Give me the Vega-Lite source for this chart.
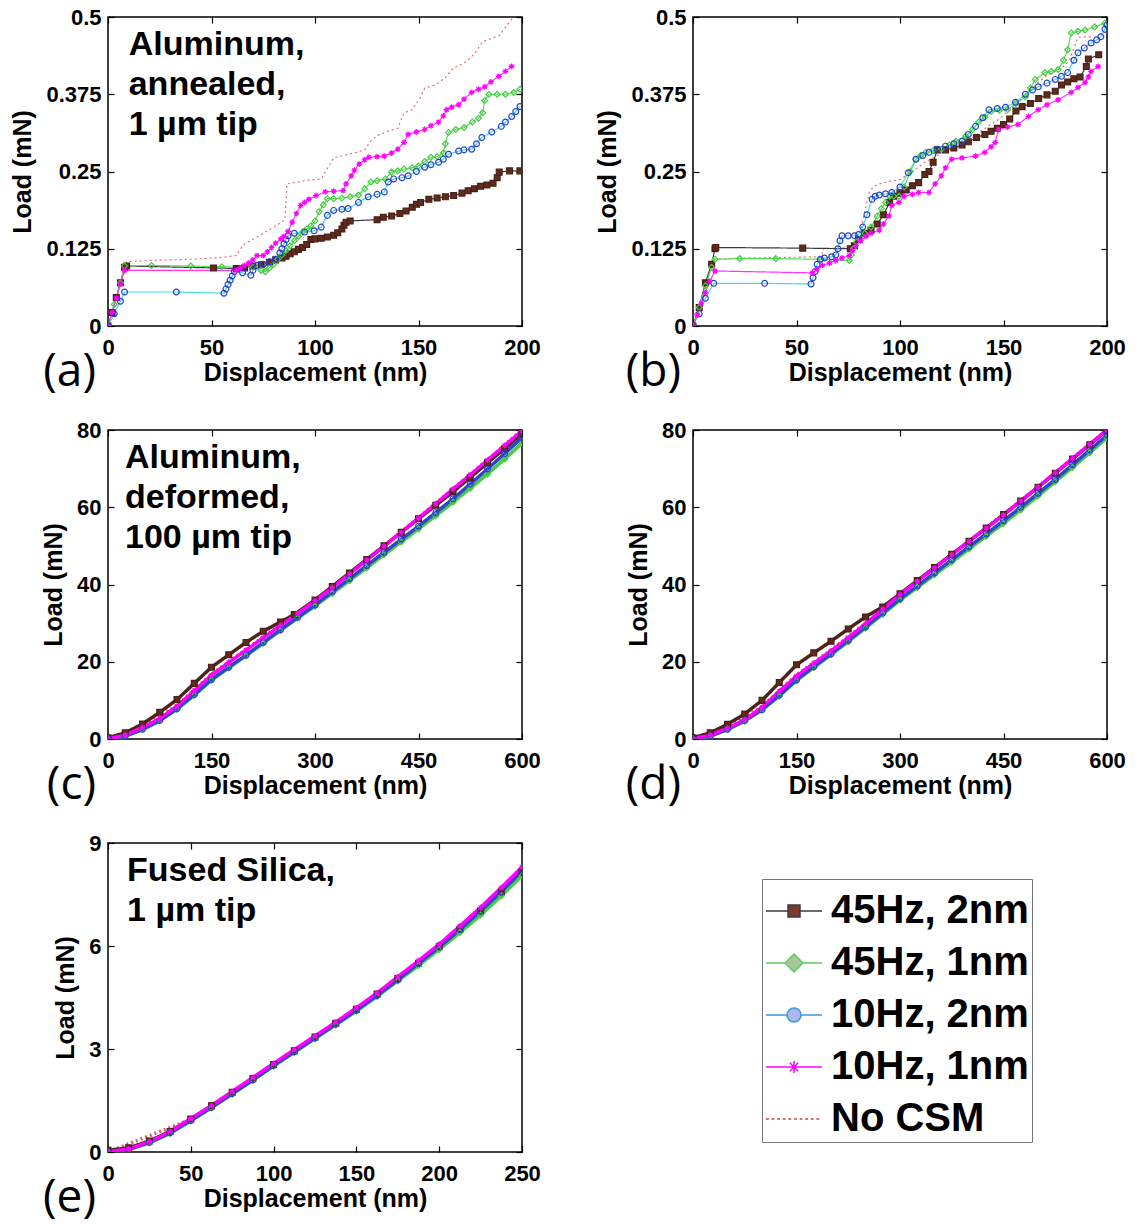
{
"$schema": "https://vega.github.io/schema/vega-lite/v6.json",
"background": "white",
"padding": {"left": 10, "top": 5, "right": 5, "bottom": 5},
"columns": 2,
"spacing": {"row": 104, "column": 171},
"bounds": "flush",
"resolve": {"scale": {"color": "independent", "shape": "independent", "fill": "independent", "stroke": "independent", "strokeDash": "independent"}, "legend": {"color": "independent", "shape": "independent", "fill": "independent", "stroke": "independent", "strokeDash": "independent"}},
"datasets": {
"a": [
{"s":"No CSM","x":0,"y":0},{"s":"No CSM","x":3,"y":0.035},{"s":"No CSM","x":6,"y":0.07},{"s":"No CSM","x":9,"y":0.104},{"s":"No CSM","x":20,"y":0.106},{"s":"No CSM","x":40,"y":0.108},{"s":"No CSM","x":55,"y":0.111},{"s":"No CSM","x":62,"y":0.114},{"s":"No CSM","x":64,"y":0.125},{"s":"No CSM","x":66,"y":0.133},{"s":"No CSM","x":71,"y":0.142},{"s":"No CSM","x":76,"y":0.152},{"s":"No CSM","x":81,"y":0.162},{"s":"No CSM","x":85.5,"y":0.172},{"s":"No CSM","x":86.5,"y":0.23},{"s":"No CSM","x":95,"y":0.235},{"s":"No CSM","x":103,"y":0.238},{"s":"No CSM","x":106,"y":0.255},{"s":"No CSM","x":109,"y":0.272},{"s":"No CSM","x":115,"y":0.277},{"s":"No CSM","x":120,"y":0.281},{"s":"No CSM","x":124,"y":0.285},{"s":"No CSM","x":127,"y":0.3},{"s":"No CSM","x":130,"y":0.308},{"s":"No CSM","x":135,"y":0.315},{"s":"No CSM","x":140,"y":0.32},{"s":"No CSM","x":143,"y":0.345},{"s":"No CSM","x":147,"y":0.35},{"s":"No CSM","x":151,"y":0.37},{"s":"No CSM","x":153,"y":0.385},{"s":"No CSM","x":158,"y":0.39},{"s":"No CSM","x":163,"y":0.402},{"s":"No CSM","x":167,"y":0.418},{"s":"No CSM","x":172,"y":0.425},{"s":"No CSM","x":177,"y":0.44},{"s":"No CSM","x":181,"y":0.46},{"s":"No CSM","x":185,"y":0.465},{"s":"No CSM","x":189,"y":0.47},{"s":"No CSM","x":193,"y":0.488},{"s":"No CSM","x":196,"y":0.5},
{"s":"45Hz, 2nm","x":0,"y":0},{"s":"45Hz, 2nm","x":2,"y":0.022},{"s":"45Hz, 2nm","x":4,"y":0.046},{"s":"45Hz, 2nm","x":6,"y":0.07},{"s":"45Hz, 2nm","x":8,"y":0.095},{"s":"45Hz, 2nm","x":9,"y":0.097},{"s":"45Hz, 2nm","x":51,"y":0.094},{"s":"45Hz, 2nm","x":62,"y":0.093},{"s":"45Hz, 2nm","x":66,"y":0.094},{"s":"45Hz, 2nm","x":70,"y":0.097},{"s":"45Hz, 2nm","x":74,"y":0.099},{"s":"45Hz, 2nm","x":78,"y":0.103},{"s":"45Hz, 2nm","x":81,"y":0.107},{"s":"45Hz, 2nm","x":84,"y":0.11},{"s":"45Hz, 2nm","x":86,"y":0.113},{"s":"45Hz, 2nm","x":88,"y":0.117},{"s":"45Hz, 2nm","x":90,"y":0.12},{"s":"45Hz, 2nm","x":92,"y":0.124},{"s":"45Hz, 2nm","x":94,"y":0.127},{"s":"45Hz, 2nm","x":96,"y":0.132},{"s":"45Hz, 2nm","x":98,"y":0.14},{"s":"45Hz, 2nm","x":100,"y":0.141},{"s":"45Hz, 2nm","x":103,"y":0.142},{"s":"45Hz, 2nm","x":106,"y":0.144},{"s":"45Hz, 2nm","x":109,"y":0.147},{"s":"45Hz, 2nm","x":111,"y":0.151},{"s":"45Hz, 2nm","x":113,"y":0.157},{"s":"45Hz, 2nm","x":114,"y":0.163},{"s":"45Hz, 2nm","x":115,"y":0.168},{"s":"45Hz, 2nm","x":117,"y":0.17},{"s":"45Hz, 2nm","x":130,"y":0.172},{"s":"45Hz, 2nm","x":133,"y":0.176},{"s":"45Hz, 2nm","x":137,"y":0.178},{"s":"45Hz, 2nm","x":141,"y":0.182},{"s":"45Hz, 2nm","x":144,"y":0.186},{"s":"45Hz, 2nm","x":147,"y":0.192},{"s":"45Hz, 2nm","x":149,"y":0.197},{"s":"45Hz, 2nm","x":151,"y":0.2},{"s":"45Hz, 2nm","x":155,"y":0.205},{"s":"45Hz, 2nm","x":159,"y":0.207},{"s":"45Hz, 2nm","x":163,"y":0.209},{"s":"45Hz, 2nm","x":167,"y":0.211},{"s":"45Hz, 2nm","x":171,"y":0.215},{"s":"45Hz, 2nm","x":174,"y":0.219},{"s":"45Hz, 2nm","x":177,"y":0.222},{"s":"45Hz, 2nm","x":180,"y":0.226},{"s":"45Hz, 2nm","x":183,"y":0.228},{"s":"45Hz, 2nm","x":186,"y":0.231},{"s":"45Hz, 2nm","x":188,"y":0.24},{"s":"45Hz, 2nm","x":189,"y":0.249},{"s":"45Hz, 2nm","x":194,"y":0.251},{"s":"45Hz, 2nm","x":199,"y":0.251},
{"s":"45Hz, 1nm","x":0,"y":0},{"s":"45Hz, 1nm","x":3,"y":0.035},{"s":"45Hz, 1nm","x":6,"y":0.07},{"s":"45Hz, 1nm","x":8,"y":0.097},{"s":"45Hz, 1nm","x":21,"y":0.098},{"s":"45Hz, 1nm","x":40,"y":0.097},{"s":"45Hz, 1nm","x":55,"y":0.096},{"s":"45Hz, 1nm","x":70,"y":0.095},{"s":"45Hz, 1nm","x":74,"y":0.09},{"s":"45Hz, 1nm","x":76,"y":0.088},{"s":"45Hz, 1nm","x":78,"y":0.094},{"s":"45Hz, 1nm","x":80,"y":0.1},{"s":"45Hz, 1nm","x":82,"y":0.108},{"s":"45Hz, 1nm","x":84,"y":0.115},{"s":"45Hz, 1nm","x":86,"y":0.122},{"s":"45Hz, 1nm","x":88,"y":0.13},{"s":"45Hz, 1nm","x":90,"y":0.138},{"s":"45Hz, 1nm","x":92,"y":0.145},{"s":"45Hz, 1nm","x":94,"y":0.152},{"s":"45Hz, 1nm","x":96,"y":0.157},{"s":"45Hz, 1nm","x":98,"y":0.162},{"s":"45Hz, 1nm","x":100,"y":0.17},{"s":"45Hz, 1nm","x":102,"y":0.185},{"s":"45Hz, 1nm","x":104,"y":0.196},{"s":"45Hz, 1nm","x":106,"y":0.206},{"s":"45Hz, 1nm","x":109,"y":0.206},{"s":"45Hz, 1nm","x":113,"y":0.207},{"s":"45Hz, 1nm","x":117,"y":0.209},{"s":"45Hz, 1nm","x":121,"y":0.212},{"s":"45Hz, 1nm","x":124,"y":0.222},{"s":"45Hz, 1nm","x":127,"y":0.233},{"s":"45Hz, 1nm","x":130,"y":0.235},{"s":"45Hz, 1nm","x":134,"y":0.238},{"s":"45Hz, 1nm","x":137,"y":0.249},{"s":"45Hz, 1nm","x":140,"y":0.251},{"s":"45Hz, 1nm","x":143,"y":0.254},{"s":"45Hz, 1nm","x":147,"y":0.256},{"s":"45Hz, 1nm","x":150,"y":0.259},{"s":"45Hz, 1nm","x":153,"y":0.266},{"s":"45Hz, 1nm","x":156,"y":0.273},{"s":"45Hz, 1nm","x":159,"y":0.274},{"s":"45Hz, 1nm","x":162,"y":0.28},{"s":"45Hz, 1nm","x":163,"y":0.295},{"s":"45Hz, 1nm","x":164.5,"y":0.313},{"s":"45Hz, 1nm","x":168,"y":0.318},{"s":"45Hz, 1nm","x":172,"y":0.321},{"s":"45Hz, 1nm","x":176,"y":0.33},{"s":"45Hz, 1nm","x":179,"y":0.336},{"s":"45Hz, 1nm","x":181,"y":0.345},{"s":"45Hz, 1nm","x":182,"y":0.365},{"s":"45Hz, 1nm","x":184,"y":0.375},{"s":"45Hz, 1nm","x":188,"y":0.375},{"s":"45Hz, 1nm","x":192,"y":0.375},{"s":"45Hz, 1nm","x":196,"y":0.378},{"s":"45Hz, 1nm","x":199,"y":0.383},
{"s":"10Hz, 2nm","x":0,"y":0},{"s":"10Hz, 2nm","x":3,"y":0.02},{"s":"10Hz, 2nm","x":6,"y":0.04},{"s":"10Hz, 2nm","x":8,"y":0.055},{"s":"10Hz, 2nm","x":33,"y":0.055},{"s":"10Hz, 2nm","x":56,"y":0.053},{"s":"10Hz, 2nm","x":57,"y":0.06},{"s":"10Hz, 2nm","x":58,"y":0.067},{"s":"10Hz, 2nm","x":59,"y":0.074},{"s":"10Hz, 2nm","x":60,"y":0.081},{"s":"10Hz, 2nm","x":61,"y":0.088},{"s":"10Hz, 2nm","x":65,"y":0.086},{"s":"10Hz, 2nm","x":69,"y":0.082},{"s":"10Hz, 2nm","x":70,"y":0.09},{"s":"10Hz, 2nm","x":72,"y":0.098},{"s":"10Hz, 2nm","x":75,"y":0.1},{"s":"10Hz, 2nm","x":78,"y":0.104},{"s":"10Hz, 2nm","x":81,"y":0.108},{"s":"10Hz, 2nm","x":83,"y":0.118},{"s":"10Hz, 2nm","x":84,"y":0.125},{"s":"10Hz, 2nm","x":85,"y":0.133},{"s":"10Hz, 2nm","x":86,"y":0.14},{"s":"10Hz, 2nm","x":87,"y":0.146},{"s":"10Hz, 2nm","x":90,"y":0.15},{"s":"10Hz, 2nm","x":95,"y":0.152},{"s":"10Hz, 2nm","x":99.6,"y":0.154},{"s":"10Hz, 2nm","x":103,"y":0.16},{"s":"10Hz, 2nm","x":106,"y":0.179},{"s":"10Hz, 2nm","x":109,"y":0.187},{"s":"10Hz, 2nm","x":113,"y":0.189},{"s":"10Hz, 2nm","x":116,"y":0.19},{"s":"10Hz, 2nm","x":121,"y":0.2},{"s":"10Hz, 2nm","x":125.7,"y":0.209},{"s":"10Hz, 2nm","x":130,"y":0.213},{"s":"10Hz, 2nm","x":133.5,"y":0.217},{"s":"10Hz, 2nm","x":135.4,"y":0.233},{"s":"10Hz, 2nm","x":138,"y":0.238},{"s":"10Hz, 2nm","x":142,"y":0.24},{"s":"10Hz, 2nm","x":145,"y":0.243},{"s":"10Hz, 2nm","x":149,"y":0.25},{"s":"10Hz, 2nm","x":153,"y":0.257},{"s":"10Hz, 2nm","x":156,"y":0.261},{"s":"10Hz, 2nm","x":159.7,"y":0.265},{"s":"10Hz, 2nm","x":162,"y":0.27},{"s":"10Hz, 2nm","x":164.5,"y":0.278},{"s":"10Hz, 2nm","x":169.4,"y":0.283},{"s":"10Hz, 2nm","x":172,"y":0.285},{"s":"10Hz, 2nm","x":175.7,"y":0.286},{"s":"10Hz, 2nm","x":178,"y":0.295},{"s":"10Hz, 2nm","x":180.6,"y":0.305},{"s":"10Hz, 2nm","x":185.4,"y":0.314},{"s":"10Hz, 2nm","x":190,"y":0.323},{"s":"10Hz, 2nm","x":192,"y":0.33},{"s":"10Hz, 2nm","x":195,"y":0.339},{"s":"10Hz, 2nm","x":197,"y":0.347},{"s":"10Hz, 2nm","x":199,"y":0.355},
{"s":"10Hz, 1nm","x":0,"y":0},{"s":"10Hz, 1nm","x":2,"y":0.022},{"s":"10Hz, 1nm","x":4,"y":0.045},{"s":"10Hz, 1nm","x":6,"y":0.068},{"s":"10Hz, 1nm","x":8,"y":0.09},{"s":"10Hz, 1nm","x":62,"y":0.09},{"s":"10Hz, 1nm","x":64,"y":0.094},{"s":"10Hz, 1nm","x":66,"y":0.098},{"s":"10Hz, 1nm","x":68,"y":0.102},{"s":"10Hz, 1nm","x":70,"y":0.107},{"s":"10Hz, 1nm","x":72,"y":0.114},{"s":"10Hz, 1nm","x":75,"y":0.114},{"s":"10Hz, 1nm","x":77,"y":0.12},{"s":"10Hz, 1nm","x":79,"y":0.127},{"s":"10Hz, 1nm","x":81,"y":0.134},{"s":"10Hz, 1nm","x":83.5,"y":0.141},{"s":"10Hz, 1nm","x":85,"y":0.145},{"s":"10Hz, 1nm","x":87,"y":0.153},{"s":"10Hz, 1nm","x":89,"y":0.168},{"s":"10Hz, 1nm","x":91,"y":0.182},{"s":"10Hz, 1nm","x":93,"y":0.195},{"s":"10Hz, 1nm","x":95,"y":0.2},{"s":"10Hz, 1nm","x":97,"y":0.205},{"s":"10Hz, 1nm","x":100.5,"y":0.211},{"s":"10Hz, 1nm","x":105,"y":0.217},{"s":"10Hz, 1nm","x":109,"y":0.218},{"s":"10Hz, 1nm","x":113.6,"y":0.219},{"s":"10Hz, 1nm","x":115,"y":0.23},{"s":"10Hz, 1nm","x":117.5,"y":0.243},{"s":"10Hz, 1nm","x":119,"y":0.252},{"s":"10Hz, 1nm","x":121.4,"y":0.262},{"s":"10Hz, 1nm","x":124,"y":0.269},{"s":"10Hz, 1nm","x":126,"y":0.273},{"s":"10Hz, 1nm","x":130,"y":0.274},{"s":"10Hz, 1nm","x":133.5,"y":0.275},{"s":"10Hz, 1nm","x":137,"y":0.28},{"s":"10Hz, 1nm","x":140,"y":0.286},{"s":"10Hz, 1nm","x":143,"y":0.297},{"s":"10Hz, 1nm","x":145,"y":0.31},{"s":"10Hz, 1nm","x":149,"y":0.314},{"s":"10Hz, 1nm","x":153,"y":0.318},{"s":"10Hz, 1nm","x":156,"y":0.324},{"s":"10Hz, 1nm","x":159.7,"y":0.33},{"s":"10Hz, 1nm","x":162,"y":0.34},{"s":"10Hz, 1nm","x":163.6,"y":0.35},{"s":"10Hz, 1nm","x":166,"y":0.354},{"s":"10Hz, 1nm","x":169.4,"y":0.358},{"s":"10Hz, 1nm","x":172,"y":0.367},{"s":"10Hz, 1nm","x":175.7,"y":0.378},{"s":"10Hz, 1nm","x":179,"y":0.383},{"s":"10Hz, 1nm","x":182,"y":0.387},{"s":"10Hz, 1nm","x":185,"y":0.395},{"s":"10Hz, 1nm","x":188.8,"y":0.404},{"s":"10Hz, 1nm","x":192,"y":0.412},{"s":"10Hz, 1nm","x":195,"y":0.42}
],
"b": [
{"s":"No CSM","x":0,"y":0},{"s":"No CSM","x":3,"y":0.033},{"s":"No CSM","x":6,"y":0.066},{"s":"No CSM","x":10,"y":0.108},{"s":"No CSM","x":25,"y":0.11},{"s":"No CSM","x":45,"y":0.111},{"s":"No CSM","x":62,"y":0.112},{"s":"No CSM","x":63,"y":0.125},{"s":"No CSM","x":70,"y":0.126},{"s":"No CSM","x":75,"y":0.127},{"s":"No CSM","x":78,"y":0.135},{"s":"No CSM","x":81,"y":0.155},{"s":"No CSM","x":83,"y":0.185},{"s":"No CSM","x":85,"y":0.215},{"s":"No CSM","x":87,"y":0.225},{"s":"No CSM","x":90,"y":0.23},{"s":"No CSM","x":95,"y":0.234},{"s":"No CSM","x":100,"y":0.237},{"s":"No CSM","x":106,"y":0.25},{"s":"No CSM","x":112,"y":0.265},{"s":"No CSM","x":116,"y":0.272},{"s":"No CSM","x":120,"y":0.28},{"s":"No CSM","x":127,"y":0.29},{"s":"No CSM","x":134,"y":0.302},{"s":"No CSM","x":138,"y":0.312},{"s":"No CSM","x":142,"y":0.322},{"s":"No CSM","x":148,"y":0.335},{"s":"No CSM","x":153,"y":0.35},{"s":"No CSM","x":157,"y":0.362},{"s":"No CSM","x":162,"y":0.378},{"s":"No CSM","x":167,"y":0.395},{"s":"No CSM","x":171,"y":0.405},{"s":"No CSM","x":175,"y":0.412},{"s":"No CSM","x":179,"y":0.42},{"s":"No CSM","x":182,"y":0.43},{"s":"No CSM","x":184,"y":0.45},{"s":"No CSM","x":186,"y":0.467},{"s":"No CSM","x":190,"y":0.468},{"s":"No CSM","x":193,"y":0.468},
{"s":"45Hz, 2nm","x":0,"y":0},{"s":"45Hz, 2nm","x":3,"y":0.03},{"s":"45Hz, 2nm","x":6,"y":0.07},{"s":"45Hz, 2nm","x":9,"y":0.1},{"s":"45Hz, 2nm","x":10.6,"y":0.125},{"s":"45Hz, 2nm","x":11,"y":0.127},{"s":"45Hz, 2nm","x":53,"y":0.126},{"s":"45Hz, 2nm","x":76,"y":0.125},{"s":"45Hz, 2nm","x":78,"y":0.13},{"s":"45Hz, 2nm","x":80,"y":0.14},{"s":"45Hz, 2nm","x":83,"y":0.15},{"s":"45Hz, 2nm","x":86,"y":0.155},{"s":"45Hz, 2nm","x":89,"y":0.165},{"s":"45Hz, 2nm","x":92,"y":0.18},{"s":"45Hz, 2nm","x":95,"y":0.2},{"s":"45Hz, 2nm","x":97,"y":0.21},{"s":"45Hz, 2nm","x":100,"y":0.215},{"s":"45Hz, 2nm","x":103,"y":0.22},{"s":"45Hz, 2nm","x":106,"y":0.227},{"s":"45Hz, 2nm","x":109,"y":0.232},{"s":"45Hz, 2nm","x":112,"y":0.245},{"s":"45Hz, 2nm","x":114,"y":0.25},{"s":"45Hz, 2nm","x":116,"y":0.265},{"s":"45Hz, 2nm","x":118,"y":0.285},{"s":"45Hz, 2nm","x":122,"y":0.285},{"s":"45Hz, 2nm","x":126,"y":0.288},{"s":"45Hz, 2nm","x":130,"y":0.293},{"s":"45Hz, 2nm","x":133,"y":0.298},{"s":"45Hz, 2nm","x":137,"y":0.305},{"s":"45Hz, 2nm","x":141,"y":0.31},{"s":"45Hz, 2nm","x":144,"y":0.315},{"s":"45Hz, 2nm","x":147,"y":0.32},{"s":"45Hz, 2nm","x":150,"y":0.326},{"s":"45Hz, 2nm","x":153,"y":0.335},{"s":"45Hz, 2nm","x":156,"y":0.348},{"s":"45Hz, 2nm","x":159,"y":0.355},{"s":"45Hz, 2nm","x":163,"y":0.36},{"s":"45Hz, 2nm","x":167,"y":0.368},{"s":"45Hz, 2nm","x":171,"y":0.374},{"s":"45Hz, 2nm","x":175,"y":0.38},{"s":"45Hz, 2nm","x":178,"y":0.39},{"s":"45Hz, 2nm","x":181,"y":0.395},{"s":"45Hz, 2nm","x":184,"y":0.4},{"s":"45Hz, 2nm","x":187,"y":0.403},{"s":"45Hz, 2nm","x":190,"y":0.42},{"s":"45Hz, 2nm","x":191,"y":0.432},{"s":"45Hz, 2nm","x":196,"y":0.439},
{"s":"45Hz, 1nm","x":0,"y":0},{"s":"45Hz, 1nm","x":3,"y":0.03},{"s":"45Hz, 1nm","x":6,"y":0.065},{"s":"45Hz, 1nm","x":9,"y":0.095},{"s":"45Hz, 1nm","x":10.6,"y":0.108},{"s":"45Hz, 1nm","x":22.6,"y":0.109},{"s":"45Hz, 1nm","x":40,"y":0.109},{"s":"45Hz, 1nm","x":62,"y":0.108},{"s":"45Hz, 1nm","x":75.5,"y":0.106},{"s":"45Hz, 1nm","x":76.5,"y":0.115},{"s":"45Hz, 1nm","x":77.5,"y":0.125},{"s":"45Hz, 1nm","x":79,"y":0.136},{"s":"45Hz, 1nm","x":81,"y":0.142},{"s":"45Hz, 1nm","x":83,"y":0.15},{"s":"45Hz, 1nm","x":86,"y":0.16},{"s":"45Hz, 1nm","x":89,"y":0.178},{"s":"45Hz, 1nm","x":91,"y":0.19},{"s":"45Hz, 1nm","x":93,"y":0.2},{"s":"45Hz, 1nm","x":95,"y":0.21},{"s":"45Hz, 1nm","x":97,"y":0.21},{"s":"45Hz, 1nm","x":99.5,"y":0.21},{"s":"45Hz, 1nm","x":102,"y":0.225},{"s":"45Hz, 1nm","x":105,"y":0.25},{"s":"45Hz, 1nm","x":107.7,"y":0.27},{"s":"45Hz, 1nm","x":110,"y":0.276},{"s":"45Hz, 1nm","x":112.5,"y":0.281},{"s":"45Hz, 1nm","x":116,"y":0.284},{"s":"45Hz, 1nm","x":120,"y":0.286},{"s":"45Hz, 1nm","x":124,"y":0.293},{"s":"45Hz, 1nm","x":127,"y":0.299},{"s":"45Hz, 1nm","x":131.7,"y":0.307},{"s":"45Hz, 1nm","x":135,"y":0.318},{"s":"45Hz, 1nm","x":138,"y":0.33},{"s":"45Hz, 1nm","x":141,"y":0.338},{"s":"45Hz, 1nm","x":144,"y":0.347},{"s":"45Hz, 1nm","x":148,"y":0.349},{"s":"45Hz, 1nm","x":152,"y":0.35},{"s":"45Hz, 1nm","x":156,"y":0.36},{"s":"45Hz, 1nm","x":160.6,"y":0.371},{"s":"45Hz, 1nm","x":163,"y":0.385},{"s":"45Hz, 1nm","x":165.4,"y":0.399},{"s":"45Hz, 1nm","x":170,"y":0.41},{"s":"45Hz, 1nm","x":173,"y":0.412},{"s":"45Hz, 1nm","x":176.4,"y":0.415},{"s":"45Hz, 1nm","x":179,"y":0.43},{"s":"45Hz, 1nm","x":181,"y":0.447},{"s":"45Hz, 1nm","x":182.7,"y":0.474},{"s":"45Hz, 1nm","x":186,"y":0.477},{"s":"45Hz, 1nm","x":189.4,"y":0.479},{"s":"45Hz, 1nm","x":194,"y":0.484},{"s":"45Hz, 1nm","x":199,"y":0.49},
{"s":"10Hz, 2nm","x":0,"y":0},{"s":"10Hz, 2nm","x":3,"y":0.02},{"s":"10Hz, 2nm","x":6,"y":0.045},{"s":"10Hz, 2nm","x":10,"y":0.069},{"s":"10Hz, 2nm","x":34.6,"y":0.069},{"s":"10Hz, 2nm","x":57,"y":0.068},{"s":"10Hz, 2nm","x":58,"y":0.078},{"s":"10Hz, 2nm","x":59,"y":0.088},{"s":"10Hz, 2nm","x":60,"y":0.1},{"s":"10Hz, 2nm","x":61.5,"y":0.108},{"s":"10Hz, 2nm","x":63.5,"y":0.11},{"s":"10Hz, 2nm","x":67,"y":0.112},{"s":"10Hz, 2nm","x":69,"y":0.115},{"s":"10Hz, 2nm","x":70,"y":0.125},{"s":"10Hz, 2nm","x":71,"y":0.138},{"s":"10Hz, 2nm","x":72,"y":0.146},{"s":"10Hz, 2nm","x":75,"y":0.146},{"s":"10Hz, 2nm","x":78,"y":0.146},{"s":"10Hz, 2nm","x":80,"y":0.148},{"s":"10Hz, 2nm","x":82,"y":0.16},{"s":"10Hz, 2nm","x":84,"y":0.18},{"s":"10Hz, 2nm","x":86.5,"y":0.205},{"s":"10Hz, 2nm","x":88,"y":0.21},{"s":"10Hz, 2nm","x":90,"y":0.212},{"s":"10Hz, 2nm","x":93,"y":0.214},{"s":"10Hz, 2nm","x":96,"y":0.216},{"s":"10Hz, 2nm","x":100,"y":0.225},{"s":"10Hz, 2nm","x":104,"y":0.248},{"s":"10Hz, 2nm","x":107.7,"y":0.27},{"s":"10Hz, 2nm","x":111,"y":0.276},{"s":"10Hz, 2nm","x":114,"y":0.281},{"s":"10Hz, 2nm","x":118,"y":0.286},{"s":"10Hz, 2nm","x":122,"y":0.291},{"s":"10Hz, 2nm","x":126,"y":0.295},{"s":"10Hz, 2nm","x":130,"y":0.299},{"s":"10Hz, 2nm","x":133,"y":0.31},{"s":"10Hz, 2nm","x":136.5,"y":0.323},{"s":"10Hz, 2nm","x":140,"y":0.337},{"s":"10Hz, 2nm","x":143,"y":0.35},{"s":"10Hz, 2nm","x":147,"y":0.352},{"s":"10Hz, 2nm","x":151,"y":0.354},{"s":"10Hz, 2nm","x":155.8,"y":0.362},{"s":"10Hz, 2nm","x":160.6,"y":0.375},{"s":"10Hz, 2nm","x":164,"y":0.382},{"s":"10Hz, 2nm","x":166.8,"y":0.387},{"s":"10Hz, 2nm","x":171,"y":0.393},{"s":"10Hz, 2nm","x":175,"y":0.399},{"s":"10Hz, 2nm","x":178,"y":0.404},{"s":"10Hz, 2nm","x":181,"y":0.41},{"s":"10Hz, 2nm","x":184,"y":0.43},{"s":"10Hz, 2nm","x":186,"y":0.442},{"s":"10Hz, 2nm","x":189,"y":0.45},{"s":"10Hz, 2nm","x":192.3,"y":0.458},{"s":"10Hz, 2nm","x":195,"y":0.463},{"s":"10Hz, 2nm","x":197,"y":0.468},{"s":"10Hz, 2nm","x":199,"y":0.48},{"s":"10Hz, 2nm","x":200,"y":0.487},
{"s":"10Hz, 1nm","x":0,"y":0},{"s":"10Hz, 1nm","x":2,"y":0.018},{"s":"10Hz, 1nm","x":4,"y":0.036},{"s":"10Hz, 1nm","x":6,"y":0.054},{"s":"10Hz, 1nm","x":8,"y":0.072},{"s":"10Hz, 1nm","x":10.6,"y":0.089},{"s":"10Hz, 1nm","x":57.7,"y":0.086},{"s":"10Hz, 1nm","x":60,"y":0.092},{"s":"10Hz, 1nm","x":62.5,"y":0.098},{"s":"10Hz, 1nm","x":66,"y":0.102},{"s":"10Hz, 1nm","x":69,"y":0.106},{"s":"10Hz, 1nm","x":72,"y":0.11},{"s":"10Hz, 1nm","x":75.5,"y":0.114},{"s":"10Hz, 1nm","x":77,"y":0.122},{"s":"10Hz, 1nm","x":78.8,"y":0.13},{"s":"10Hz, 1nm","x":81,"y":0.138},{"s":"10Hz, 1nm","x":83.6,"y":0.145},{"s":"10Hz, 1nm","x":86,"y":0.15},{"s":"10Hz, 1nm","x":90,"y":0.155},{"s":"10Hz, 1nm","x":92,"y":0.165},{"s":"10Hz, 1nm","x":94.7,"y":0.178},{"s":"10Hz, 1nm","x":96,"y":0.195},{"s":"10Hz, 1nm","x":99.5,"y":0.2},{"s":"10Hz, 1nm","x":102,"y":0.21},{"s":"10Hz, 1nm","x":106,"y":0.213},{"s":"10Hz, 1nm","x":109,"y":0.216},{"s":"10Hz, 1nm","x":114,"y":0.216},{"s":"10Hz, 1nm","x":117,"y":0.23},{"s":"10Hz, 1nm","x":120,"y":0.243},{"s":"10Hz, 1nm","x":122,"y":0.256},{"s":"10Hz, 1nm","x":125,"y":0.27},{"s":"10Hz, 1nm","x":130,"y":0.272},{"s":"10Hz, 1nm","x":136.5,"y":0.275},{"s":"10Hz, 1nm","x":141,"y":0.281},{"s":"10Hz, 1nm","x":144,"y":0.29},{"s":"10Hz, 1nm","x":146,"y":0.297},{"s":"10Hz, 1nm","x":147.6,"y":0.318},{"s":"10Hz, 1nm","x":152,"y":0.322},{"s":"10Hz, 1nm","x":157,"y":0.326},{"s":"10Hz, 1nm","x":162,"y":0.339},{"s":"10Hz, 1nm","x":166.8,"y":0.35},{"s":"10Hz, 1nm","x":171,"y":0.358},{"s":"10Hz, 1nm","x":176.4,"y":0.366},{"s":"10Hz, 1nm","x":182.7,"y":0.378},{"s":"10Hz, 1nm","x":186,"y":0.386},{"s":"10Hz, 1nm","x":189.4,"y":0.394},{"s":"10Hz, 1nm","x":191,"y":0.403},{"s":"10Hz, 1nm","x":192.3,"y":0.412},{"s":"10Hz, 1nm","x":195.7,"y":0.42}
],
"c": [
{"s":"No CSM","x":0,"y":0},{"s":"No CSM","x":50,"y":3.1},{"s":"No CSM","x":100,"y":8.7},{"s":"No CSM","x":150,"y":16.8},{"s":"No CSM","x":200,"y":23.2},{"s":"No CSM","x":250,"y":29.6},{"s":"No CSM","x":300,"y":36},{"s":"No CSM","x":350,"y":42.8},{"s":"No CSM","x":400,"y":50},{"s":"No CSM","x":450,"y":57.3},{"s":"No CSM","x":500,"y":64.8},{"s":"No CSM","x":550,"y":72.3},{"s":"No CSM","x":600,"y":80},
{"s":"45Hz, 2nm","x":0,"y":0.3},{"s":"45Hz, 2nm","x":25,"y":1.6},{"s":"45Hz, 2nm","x":50,"y":3.9},{"s":"45Hz, 2nm","x":75,"y":6.9},{"s":"45Hz, 2nm","x":100,"y":10.2},{"s":"45Hz, 2nm","x":125,"y":14.4},{"s":"45Hz, 2nm","x":150,"y":18.6},{"s":"45Hz, 2nm","x":175,"y":21.8},{"s":"45Hz, 2nm","x":200,"y":25},{"s":"45Hz, 2nm","x":225,"y":27.9},{"s":"45Hz, 2nm","x":250,"y":30.3},{"s":"45Hz, 2nm","x":270,"y":32.2},{"s":"45Hz, 2nm","x":300,"y":36},{"s":"45Hz, 2nm","x":325,"y":39.5},{"s":"45Hz, 2nm","x":350,"y":43},{"s":"45Hz, 2nm","x":375,"y":46.5},{"s":"45Hz, 2nm","x":400,"y":50},{"s":"45Hz, 2nm","x":425,"y":53.5},{"s":"45Hz, 2nm","x":450,"y":57},{"s":"45Hz, 2nm","x":475,"y":60.5},{"s":"45Hz, 2nm","x":500,"y":64},{"s":"45Hz, 2nm","x":525,"y":67.7},{"s":"45Hz, 2nm","x":550,"y":71.5},{"s":"45Hz, 2nm","x":575,"y":75.2},{"s":"45Hz, 2nm","x":600,"y":79},
{"s":"45Hz, 1nm","x":0,"y":0},{"s":"45Hz, 1nm","x":25,"y":0.7},{"s":"45Hz, 1nm","x":50,"y":2.4},{"s":"45Hz, 1nm","x":75,"y":4.7},{"s":"45Hz, 1nm","x":100,"y":7.7},{"s":"45Hz, 1nm","x":125,"y":11.3},{"s":"45Hz, 1nm","x":150,"y":15.2},{"s":"45Hz, 1nm","x":175,"y":18.4},{"s":"45Hz, 1nm","x":200,"y":21.5},{"s":"45Hz, 1nm","x":225,"y":24.8},{"s":"45Hz, 1nm","x":250,"y":28.1},{"s":"45Hz, 1nm","x":275,"y":31.3},{"s":"45Hz, 1nm","x":300,"y":34.4},{"s":"45Hz, 1nm","x":325,"y":37.7},{"s":"45Hz, 1nm","x":350,"y":41},{"s":"45Hz, 1nm","x":375,"y":44.3},{"s":"45Hz, 1nm","x":400,"y":47.7},{"s":"45Hz, 1nm","x":425,"y":51},{"s":"45Hz, 1nm","x":450,"y":54.4},{"s":"45Hz, 1nm","x":475,"y":57.8},{"s":"45Hz, 1nm","x":500,"y":61.3},{"s":"45Hz, 1nm","x":525,"y":64.9},{"s":"45Hz, 1nm","x":550,"y":68.6},{"s":"45Hz, 1nm","x":575,"y":72.5},{"s":"45Hz, 1nm","x":600,"y":76.6},
{"s":"10Hz, 2nm","x":0,"y":0},{"s":"10Hz, 2nm","x":25,"y":0.8},{"s":"10Hz, 2nm","x":50,"y":2.5},{"s":"10Hz, 2nm","x":75,"y":4.8},{"s":"10Hz, 2nm","x":100,"y":7.8},{"s":"10Hz, 2nm","x":125,"y":11.5},{"s":"10Hz, 2nm","x":150,"y":15.4},{"s":"10Hz, 2nm","x":175,"y":18.6},{"s":"10Hz, 2nm","x":200,"y":21.7},{"s":"10Hz, 2nm","x":225,"y":25},{"s":"10Hz, 2nm","x":250,"y":28.3},{"s":"10Hz, 2nm","x":275,"y":31.5},{"s":"10Hz, 2nm","x":300,"y":34.7},{"s":"10Hz, 2nm","x":325,"y":38.1},{"s":"10Hz, 2nm","x":350,"y":41.5},{"s":"10Hz, 2nm","x":375,"y":44.9},{"s":"10Hz, 2nm","x":400,"y":48.3},{"s":"10Hz, 2nm","x":425,"y":51.7},{"s":"10Hz, 2nm","x":450,"y":55.1},{"s":"10Hz, 2nm","x":475,"y":58.6},{"s":"10Hz, 2nm","x":500,"y":62.2},{"s":"10Hz, 2nm","x":525,"y":66},{"s":"10Hz, 2nm","x":550,"y":69.9},{"s":"10Hz, 2nm","x":575,"y":73.9},{"s":"10Hz, 2nm","x":600,"y":78},
{"s":"10Hz, 1nm","x":0,"y":0},{"s":"10Hz, 1nm","x":25,"y":1},{"s":"10Hz, 1nm","x":50,"y":3},{"s":"10Hz, 1nm","x":75,"y":5.3},{"s":"10Hz, 1nm","x":100,"y":8.5},{"s":"10Hz, 1nm","x":125,"y":12.5},{"s":"10Hz, 1nm","x":150,"y":16.5},{"s":"10Hz, 1nm","x":175,"y":19.8},{"s":"10Hz, 1nm","x":200,"y":23},{"s":"10Hz, 1nm","x":225,"y":26.2},{"s":"10Hz, 1nm","x":250,"y":29.4},{"s":"10Hz, 1nm","x":275,"y":32.5},{"s":"10Hz, 1nm","x":300,"y":35.8},{"s":"10Hz, 1nm","x":325,"y":39.2},{"s":"10Hz, 1nm","x":350,"y":42.7},{"s":"10Hz, 1nm","x":375,"y":46.3},{"s":"10Hz, 1nm","x":400,"y":49.9},{"s":"10Hz, 1nm","x":425,"y":53.5},{"s":"10Hz, 1nm","x":450,"y":57.2},{"s":"10Hz, 1nm","x":475,"y":60.9},{"s":"10Hz, 1nm","x":500,"y":64.7},{"s":"10Hz, 1nm","x":525,"y":68.4},{"s":"10Hz, 1nm","x":550,"y":72.2},{"s":"10Hz, 1nm","x":575,"y":76},{"s":"10Hz, 1nm","x":600,"y":79.8}
],
"d": [
{"s":"No CSM","x":0,"y":0},{"s":"No CSM","x":50,"y":3},{"s":"No CSM","x":100,"y":8.4},{"s":"No CSM","x":150,"y":16.6},{"s":"No CSM","x":200,"y":23},{"s":"No CSM","x":250,"y":30},{"s":"No CSM","x":300,"y":37.6},{"s":"No CSM","x":350,"y":44.4},{"s":"No CSM","x":400,"y":51.2},{"s":"No CSM","x":450,"y":58.2},{"s":"No CSM","x":500,"y":65.3},{"s":"No CSM","x":550,"y":72.7},{"s":"No CSM","x":600,"y":80},
{"s":"45Hz, 2nm","x":0,"y":0.3},{"s":"45Hz, 2nm","x":25,"y":1.6},{"s":"45Hz, 2nm","x":50,"y":3.8},{"s":"45Hz, 2nm","x":75,"y":6.5},{"s":"45Hz, 2nm","x":100,"y":10},{"s":"45Hz, 2nm","x":125,"y":14.6},{"s":"45Hz, 2nm","x":150,"y":19.2},{"s":"45Hz, 2nm","x":175,"y":22.3},{"s":"45Hz, 2nm","x":200,"y":25.3},{"s":"45Hz, 2nm","x":225,"y":28.5},{"s":"45Hz, 2nm","x":250,"y":31.6},{"s":"45Hz, 2nm","x":275,"y":34.2},{"s":"45Hz, 2nm","x":300,"y":37.6},{"s":"45Hz, 2nm","x":325,"y":41},{"s":"45Hz, 2nm","x":350,"y":44.4},{"s":"45Hz, 2nm","x":375,"y":47.8},{"s":"45Hz, 2nm","x":400,"y":51.2},{"s":"45Hz, 2nm","x":425,"y":54.6},{"s":"45Hz, 2nm","x":450,"y":58.1},{"s":"45Hz, 2nm","x":475,"y":61.6},{"s":"45Hz, 2nm","x":500,"y":65.2},{"s":"45Hz, 2nm","x":525,"y":68.8},{"s":"45Hz, 2nm","x":550,"y":72.5},{"s":"45Hz, 2nm","x":575,"y":76.2},{"s":"45Hz, 2nm","x":600,"y":80},
{"s":"45Hz, 1nm","x":0,"y":0},{"s":"45Hz, 1nm","x":25,"y":0.7},{"s":"45Hz, 1nm","x":50,"y":2.4},{"s":"45Hz, 1nm","x":75,"y":4.6},{"s":"45Hz, 1nm","x":100,"y":7.5},{"s":"45Hz, 1nm","x":125,"y":11.1},{"s":"45Hz, 1nm","x":150,"y":15.1},{"s":"45Hz, 1nm","x":175,"y":18.5},{"s":"45Hz, 1nm","x":200,"y":21.8},{"s":"45Hz, 1nm","x":225,"y":25.2},{"s":"45Hz, 1nm","x":250,"y":28.7},{"s":"45Hz, 1nm","x":275,"y":32.3},{"s":"45Hz, 1nm","x":300,"y":35.9},{"s":"45Hz, 1nm","x":325,"y":39.2},{"s":"45Hz, 1nm","x":350,"y":42.5},{"s":"45Hz, 1nm","x":375,"y":45.8},{"s":"45Hz, 1nm","x":400,"y":49.2},{"s":"45Hz, 1nm","x":425,"y":52.5},{"s":"45Hz, 1nm","x":450,"y":55.8},{"s":"45Hz, 1nm","x":475,"y":59.3},{"s":"45Hz, 1nm","x":500,"y":62.9},{"s":"45Hz, 1nm","x":525,"y":66.6},{"s":"45Hz, 1nm","x":550,"y":70.3},{"s":"45Hz, 1nm","x":575,"y":74.1},{"s":"45Hz, 1nm","x":600,"y":78},
{"s":"10Hz, 2nm","x":0,"y":0},{"s":"10Hz, 2nm","x":25,"y":0.8},{"s":"10Hz, 2nm","x":50,"y":2.5},{"s":"10Hz, 2nm","x":75,"y":4.8},{"s":"10Hz, 2nm","x":100,"y":7.6},{"s":"10Hz, 2nm","x":125,"y":11.3},{"s":"10Hz, 2nm","x":150,"y":15.3},{"s":"10Hz, 2nm","x":175,"y":18.7},{"s":"10Hz, 2nm","x":200,"y":22},{"s":"10Hz, 2nm","x":225,"y":25.5},{"s":"10Hz, 2nm","x":250,"y":29},{"s":"10Hz, 2nm","x":275,"y":32.6},{"s":"10Hz, 2nm","x":300,"y":36.3},{"s":"10Hz, 2nm","x":325,"y":39.6},{"s":"10Hz, 2nm","x":350,"y":43},{"s":"10Hz, 2nm","x":375,"y":46.4},{"s":"10Hz, 2nm","x":400,"y":49.8},{"s":"10Hz, 2nm","x":425,"y":53.1},{"s":"10Hz, 2nm","x":450,"y":56.5},{"s":"10Hz, 2nm","x":475,"y":60},{"s":"10Hz, 2nm","x":500,"y":63.6},{"s":"10Hz, 2nm","x":525,"y":67.2},{"s":"10Hz, 2nm","x":550,"y":71},{"s":"10Hz, 2nm","x":575,"y":74.8},{"s":"10Hz, 2nm","x":600,"y":78.7},
{"s":"10Hz, 1nm","x":0,"y":0},{"s":"10Hz, 1nm","x":25,"y":1},{"s":"10Hz, 1nm","x":50,"y":2.8},{"s":"10Hz, 1nm","x":75,"y":5},{"s":"10Hz, 1nm","x":100,"y":8.2},{"s":"10Hz, 1nm","x":125,"y":12.3},{"s":"10Hz, 1nm","x":150,"y":16.3},{"s":"10Hz, 1nm","x":175,"y":19.6},{"s":"10Hz, 1nm","x":200,"y":22.8},{"s":"10Hz, 1nm","x":225,"y":26.2},{"s":"10Hz, 1nm","x":250,"y":29.8},{"s":"10Hz, 1nm","x":275,"y":33.6},{"s":"10Hz, 1nm","x":300,"y":37.4},{"s":"10Hz, 1nm","x":325,"y":40.8},{"s":"10Hz, 1nm","x":350,"y":44.3},{"s":"10Hz, 1nm","x":375,"y":47.7},{"s":"10Hz, 1nm","x":400,"y":51.2},{"s":"10Hz, 1nm","x":425,"y":54.6},{"s":"10Hz, 1nm","x":450,"y":58},{"s":"10Hz, 1nm","x":475,"y":61.6},{"s":"10Hz, 1nm","x":500,"y":65.2},{"s":"10Hz, 1nm","x":525,"y":68.9},{"s":"10Hz, 1nm","x":550,"y":72.6},{"s":"10Hz, 1nm","x":575,"y":76.3},{"s":"10Hz, 1nm","x":600,"y":80}
],
"e": [
{"s":"No CSM","x":0,"y":0},{"s":"No CSM","x":50,"y":0.95},{"s":"No CSM","x":100,"y":2.55},{"s":"No CSM","x":150,"y":4.17},{"s":"No CSM","x":200,"y":6},{"s":"No CSM","x":250,"y":8.25},
{"s":"45Hz, 2nm","x":0,"y":0.05},{"s":"45Hz, 2nm","x":12.5,"y":0.12},{"s":"45Hz, 2nm","x":25,"y":0.32},{"s":"45Hz, 2nm","x":37.5,"y":0.6},{"s":"45Hz, 2nm","x":50,"y":0.96},{"s":"45Hz, 2nm","x":62.5,"y":1.35},{"s":"45Hz, 2nm","x":75,"y":1.74},{"s":"45Hz, 2nm","x":87.5,"y":2.14},{"s":"45Hz, 2nm","x":100,"y":2.55},{"s":"45Hz, 2nm","x":112.5,"y":2.95},{"s":"45Hz, 2nm","x":125,"y":3.35},{"s":"45Hz, 2nm","x":137.5,"y":3.75},{"s":"45Hz, 2nm","x":150,"y":4.16},{"s":"45Hz, 2nm","x":162.5,"y":4.6},{"s":"45Hz, 2nm","x":175,"y":5.05},{"s":"45Hz, 2nm","x":187.5,"y":5.5},{"s":"45Hz, 2nm","x":200,"y":5.98},{"s":"45Hz, 2nm","x":212.5,"y":6.49},{"s":"45Hz, 2nm","x":225,"y":7.02},{"s":"45Hz, 2nm","x":237.5,"y":7.57},{"s":"45Hz, 2nm","x":250,"y":8.15},
{"s":"45Hz, 1nm","x":0,"y":0},{"s":"45Hz, 1nm","x":12.5,"y":0.07},{"s":"45Hz, 1nm","x":25,"y":0.26},{"s":"45Hz, 1nm","x":37.5,"y":0.54},{"s":"45Hz, 1nm","x":50,"y":0.9},{"s":"45Hz, 1nm","x":62.5,"y":1.29},{"s":"45Hz, 1nm","x":75,"y":1.68},{"s":"45Hz, 1nm","x":87.5,"y":2.09},{"s":"45Hz, 1nm","x":100,"y":2.5},{"s":"45Hz, 1nm","x":112.5,"y":2.9},{"s":"45Hz, 1nm","x":125,"y":3.3},{"s":"45Hz, 1nm","x":137.5,"y":3.7},{"s":"45Hz, 1nm","x":150,"y":4.1},{"s":"45Hz, 1nm","x":162.5,"y":4.53},{"s":"45Hz, 1nm","x":175,"y":4.98},{"s":"45Hz, 1nm","x":187.5,"y":5.43},{"s":"45Hz, 1nm","x":200,"y":5.9},{"s":"45Hz, 1nm","x":212.5,"y":6.39},{"s":"45Hz, 1nm","x":225,"y":6.9},{"s":"45Hz, 1nm","x":237.5,"y":7.46},{"s":"45Hz, 1nm","x":250,"y":8.05},
{"s":"10Hz, 2nm","x":0,"y":0},{"s":"10Hz, 2nm","x":12.5,"y":0.08},{"s":"10Hz, 2nm","x":25,"y":0.28},{"s":"10Hz, 2nm","x":37.5,"y":0.56},{"s":"10Hz, 2nm","x":50,"y":0.92},{"s":"10Hz, 2nm","x":62.5,"y":1.3},{"s":"10Hz, 2nm","x":75,"y":1.7},{"s":"10Hz, 2nm","x":87.5,"y":2.1},{"s":"10Hz, 2nm","x":100,"y":2.52},{"s":"10Hz, 2nm","x":112.5,"y":2.92},{"s":"10Hz, 2nm","x":125,"y":3.32},{"s":"10Hz, 2nm","x":137.5,"y":3.72},{"s":"10Hz, 2nm","x":150,"y":4.13},{"s":"10Hz, 2nm","x":162.5,"y":4.56},{"s":"10Hz, 2nm","x":175,"y":5.02},{"s":"10Hz, 2nm","x":187.5,"y":5.49},{"s":"10Hz, 2nm","x":200,"y":5.97},{"s":"10Hz, 2nm","x":212.5,"y":6.48},{"s":"10Hz, 2nm","x":225,"y":7.02},{"s":"10Hz, 2nm","x":237.5,"y":7.58},{"s":"10Hz, 2nm","x":250,"y":8.2},
{"s":"10Hz, 1nm","x":0,"y":0},{"s":"10Hz, 1nm","x":12.5,"y":0.09},{"s":"10Hz, 1nm","x":25,"y":0.3},{"s":"10Hz, 1nm","x":37.5,"y":0.6},{"s":"10Hz, 1nm","x":50,"y":0.97},{"s":"10Hz, 1nm","x":62.5,"y":1.35},{"s":"10Hz, 1nm","x":75,"y":1.76},{"s":"10Hz, 1nm","x":87.5,"y":2.17},{"s":"10Hz, 1nm","x":100,"y":2.58},{"s":"10Hz, 1nm","x":112.5,"y":2.98},{"s":"10Hz, 1nm","x":125,"y":3.38},{"s":"10Hz, 1nm","x":137.5,"y":3.78},{"s":"10Hz, 1nm","x":150,"y":4.2},{"s":"10Hz, 1nm","x":162.5,"y":4.63},{"s":"10Hz, 1nm","x":175,"y":5.1},{"s":"10Hz, 1nm","x":187.5,"y":5.57},{"s":"10Hz, 1nm","x":200,"y":6.05},{"s":"10Hz, 1nm","x":212.5,"y":6.58},{"s":"10Hz, 1nm","x":225,"y":7.12},{"s":"10Hz, 1nm","x":237.5,"y":7.7},{"s":"10Hz, 1nm","x":250,"y":8.3}
]
},
"concat": [
{
"width": 414, "height": 309,
"data": {"name": "a"},
"resolve": {"axis": {"x": "independent", "y": "independent"}},
"layer": [
{"mark": {"type": "line", "strokeWidth": 1.2, "clip": true},
"encoding": {
"x": {"field": "x", "type": "quantitative", "scale": {"domain": [0, 200], "nice": false}, "axis": {"values": [0, 50, 100, 150, 200], "title": "Displacement (nm)"}},
"y": {"field": "y", "type": "quantitative", "scale": {"domain": [0, 0.5], "nice": false}, "axis": {"values": [0, 0.125, 0.25, 0.375, 0.5], "format": ".3~g", "title": "Load (mN)"}},
"color": {"field": "s", "type": "nominal", "scale": {"domain": ["45Hz, 2nm", "45Hz, 1nm", "10Hz, 2nm", "10Hz, 1nm", "No CSM"], "range": ["#3a3a3a", "#55dd55", "#44dddd", "#ff33ff", "#e07070"]}, "legend": null},
"strokeDash": {"field": "s", "type": "nominal", "scale": {"domain": ["45Hz, 2nm", "45Hz, 1nm", "10Hz, 2nm", "10Hz, 1nm", "No CSM"], "range": [[1, 0], [1, 0], [1, 0], [1, 0], [2, 3]]}, "legend": null}
}},
{"transform": [{"filter": "datum.s != 'No CSM'"}],
"mark": {"type": "point", "size": 34, "strokeWidth": 1.2, "opacity": 1, "clip": true},
"encoding": {
"x": {"field": "x", "type": "quantitative", "axis": {"orient": "top", "labels": false, "title": null, "values": [0, 50, 100, 150, 200]}},
"y": {"field": "y", "type": "quantitative", "axis": {"orient": "right", "labels": false, "title": null, "values": [0, 0.125, 0.25, 0.375, 0.5]}},
"shape": {"field": "s", "type": "nominal", "scale": {"domain": ["45Hz, 2nm", "45Hz, 1nm", "10Hz, 2nm", "10Hz, 1nm", "No CSM"], "range": ["square", "diamond", "circle", "M-1,0H1M0,-1V1M-0.7,-0.7L0.7,0.7M-0.7,0.7L0.7,-0.7", "circle"]}, "legend": null},
"fill": {"field": "s", "type": "nominal", "scale": {"domain": ["45Hz, 2nm", "45Hz, 1nm", "10Hz, 2nm", "10Hz, 1nm", "No CSM"], "range": ["#5e2b1f", "transparent", "transparent", "#ff00ff", "transparent"]}, "legend": null},
"stroke": {"field": "s", "type": "nominal", "scale": {"domain": ["45Hz, 2nm", "45Hz, 1nm", "10Hz, 2nm", "10Hz, 1nm", "No CSM"], "range": ["#4a2015", "#44cc44", "#2a3fd0", "#ff00ff", "#e07070"]}, "legend": null}
}},
{"data": {"values": [{}]},
"mark": {"type": "text", "align": "left", "baseline": "alphabetic", "fontSize": 34, "fontWeight": "bold", "font": "Liberation Sans", "lineHeight": 40, "color": "#000"},
"encoding": {"x": {"datum": 10, "type": "quantitative", "axis": null}, "y": {"datum": 0.4385, "type": "quantitative", "axis": null}, "text": {"value": ["Aluminum,", "annealed,", "1 µm tip"]}}},
{"data": {"values": [{}]},
"mark": {"type": "text", "align": "right", "baseline": "middle", "fontSize": 46, "font": "Open Sans", "color": "#000"},
"encoding": {"x": {"datum": -5.8, "type": "quantitative", "axis": null}, "y": {"datum": -0.0744, "type": "quantitative", "axis": null}, "text": {"value": "(a)"}}}
]
},
{
"width": 414, "height": 309,
"data": {"name": "b"},
"resolve": {"axis": {"x": "independent", "y": "independent"}},
"layer": [
{"mark": {"type": "line", "strokeWidth": 1.2, "clip": true},
"encoding": {
"x": {"field": "x", "type": "quantitative", "scale": {"domain": [0, 200], "nice": false}, "axis": {"values": [0, 50, 100, 150, 200], "title": "Displacement (nm)"}},
"y": {"field": "y", "type": "quantitative", "scale": {"domain": [0, 0.5], "nice": false}, "axis": {"values": [0, 0.125, 0.25, 0.375, 0.5], "format": ".3~g", "title": "Load (mN)"}},
"color": {"field": "s", "type": "nominal", "scale": {"domain": ["45Hz, 2nm", "45Hz, 1nm", "10Hz, 2nm", "10Hz, 1nm", "No CSM"], "range": ["#3a3a3a", "#55dd55", "#44dddd", "#ff33ff", "#e07070"]}, "legend": null},
"strokeDash": {"field": "s", "type": "nominal", "scale": {"domain": ["45Hz, 2nm", "45Hz, 1nm", "10Hz, 2nm", "10Hz, 1nm", "No CSM"], "range": [[1, 0], [1, 0], [1, 0], [1, 0], [2, 3]]}, "legend": null}
}},
{"transform": [{"filter": "datum.s != 'No CSM'"}],
"mark": {"type": "point", "size": 34, "strokeWidth": 1.2, "opacity": 1, "clip": true},
"encoding": {
"x": {"field": "x", "type": "quantitative", "axis": {"orient": "top", "labels": false, "title": null, "values": [0, 50, 100, 150, 200]}},
"y": {"field": "y", "type": "quantitative", "axis": {"orient": "right", "labels": false, "title": null, "values": [0, 0.125, 0.25, 0.375, 0.5]}},
"shape": {"field": "s", "type": "nominal", "scale": {"domain": ["45Hz, 2nm", "45Hz, 1nm", "10Hz, 2nm", "10Hz, 1nm", "No CSM"], "range": ["square", "diamond", "circle", "M-1,0H1M0,-1V1M-0.7,-0.7L0.7,0.7M-0.7,0.7L0.7,-0.7", "circle"]}, "legend": null},
"fill": {"field": "s", "type": "nominal", "scale": {"domain": ["45Hz, 2nm", "45Hz, 1nm", "10Hz, 2nm", "10Hz, 1nm", "No CSM"], "range": ["#5e2b1f", "transparent", "transparent", "#ff00ff", "transparent"]}, "legend": null},
"stroke": {"field": "s", "type": "nominal", "scale": {"domain": ["45Hz, 2nm", "45Hz, 1nm", "10Hz, 2nm", "10Hz, 1nm", "No CSM"], "range": ["#4a2015", "#44cc44", "#2a3fd0", "#ff00ff", "#e07070"]}, "legend": null}
}},
{"data": {"values": [{}]},
"mark": {"type": "text", "align": "right", "baseline": "middle", "fontSize": 46, "font": "Open Sans", "color": "#000"},
"encoding": {"x": {"datum": -5.8, "type": "quantitative", "axis": null}, "y": {"datum": -0.0744, "type": "quantitative", "axis": null}, "text": {"value": "(b)"}}}
]
},
{
"width": 414, "height": 309,
"data": {"name": "c"},
"resolve": {"axis": {"x": "independent", "y": "independent"}},
"layer": [
{"mark": {"type": "line", "strokeWidth": 3.5, "clip": true},
"encoding": {
"x": {"field": "x", "type": "quantitative", "scale": {"domain": [0, 600], "nice": false}, "axis": {"values": [0, 150, 300, 450, 600], "title": "Displacement (nm)"}},
"y": {"field": "y", "type": "quantitative", "scale": {"domain": [0, 80], "nice": false}, "axis": {"values": [0, 20, 40, 60, 80], "title": "Load (mN)"}},
"color": {"field": "s", "type": "nominal", "scale": {"domain": ["45Hz, 2nm", "45Hz, 1nm", "10Hz, 2nm", "10Hz, 1nm", "No CSM"], "range": ["#4d2419", "#44cc44", "#3344cc", "#ff00ff", "#e06060"]}, "legend": null},
"strokeDash": {"field": "s", "type": "nominal", "scale": {"domain": ["45Hz, 2nm", "45Hz, 1nm", "10Hz, 2nm", "10Hz, 1nm", "No CSM"], "range": [[1, 0], [1, 0], [1, 0], [1, 0], [2, 3]]}, "legend": null}
}},
{"transform": [{"filter": "datum.s != 'No CSM'"}],
"mark": {"type": "point", "size": 34, "strokeWidth": 1.2, "opacity": 1, "clip": true},
"encoding": {
"x": {"field": "x", "type": "quantitative", "axis": {"orient": "top", "labels": false, "title": null, "values": [0, 150, 300, 450, 600]}},
"y": {"field": "y", "type": "quantitative", "axis": {"orient": "right", "labels": false, "title": null, "values": [0, 20, 40, 60, 80]}},
"shape": {"field": "s", "type": "nominal", "scale": {"domain": ["45Hz, 2nm", "45Hz, 1nm", "10Hz, 2nm", "10Hz, 1nm", "No CSM"], "range": ["square", "diamond", "circle", "M-1,0H1M0,-1V1M-0.7,-0.7L0.7,0.7M-0.7,0.7L0.7,-0.7", "circle"]}, "legend": null},
"fill": {"field": "s", "type": "nominal", "scale": {"domain": ["45Hz, 2nm", "45Hz, 1nm", "10Hz, 2nm", "10Hz, 1nm", "No CSM"], "range": ["#5e2b1f", "transparent", "transparent", "#ff00ff", "transparent"]}, "legend": null},
"stroke": {"field": "s", "type": "nominal", "scale": {"domain": ["45Hz, 2nm", "45Hz, 1nm", "10Hz, 2nm", "10Hz, 1nm", "No CSM"], "range": ["#4a2015", "#44cc44", "#2a3fd0", "#ff00ff", "#e07070"]}, "legend": null}
}},
{"data": {"values": [{}]},
"mark": {"type": "text", "align": "left", "baseline": "alphabetic", "fontSize": 34, "fontWeight": "bold", "font": "Liberation Sans", "lineHeight": 40, "color": "#000"},
"encoding": {"x": {"datum": 24.6, "type": "quantitative", "axis": null}, "y": {"datum": 70.16, "type": "quantitative", "axis": null}, "text": {"value": ["Aluminum,", "deformed,", "100 µm tip"]}}},
{"data": {"values": [{}]},
"mark": {"type": "text", "align": "right", "baseline": "middle", "fontSize": 46, "font": "Open Sans", "color": "#000"},
"encoding": {"x": {"datum": -17.4, "type": "quantitative", "axis": null}, "y": {"datum": -11.9, "type": "quantitative", "axis": null}, "text": {"value": "(c)"}}}
]
},
{
"width": 414, "height": 309,
"data": {"name": "d"},
"resolve": {"axis": {"x": "independent", "y": "independent"}},
"layer": [
{"mark": {"type": "line", "strokeWidth": 3.5, "clip": true},
"encoding": {
"x": {"field": "x", "type": "quantitative", "scale": {"domain": [0, 600], "nice": false}, "axis": {"values": [0, 150, 300, 450, 600], "title": "Displacement (nm)"}},
"y": {"field": "y", "type": "quantitative", "scale": {"domain": [0, 80], "nice": false}, "axis": {"values": [0, 20, 40, 60, 80], "title": "Load (mN)"}},
"color": {"field": "s", "type": "nominal", "scale": {"domain": ["45Hz, 2nm", "45Hz, 1nm", "10Hz, 2nm", "10Hz, 1nm", "No CSM"], "range": ["#4d2419", "#44cc44", "#3344cc", "#ff00ff", "#e06060"]}, "legend": null},
"strokeDash": {"field": "s", "type": "nominal", "scale": {"domain": ["45Hz, 2nm", "45Hz, 1nm", "10Hz, 2nm", "10Hz, 1nm", "No CSM"], "range": [[1, 0], [1, 0], [1, 0], [1, 0], [2, 3]]}, "legend": null}
}},
{"transform": [{"filter": "datum.s != 'No CSM'"}],
"mark": {"type": "point", "size": 34, "strokeWidth": 1.2, "opacity": 1, "clip": true},
"encoding": {
"x": {"field": "x", "type": "quantitative", "axis": {"orient": "top", "labels": false, "title": null, "values": [0, 150, 300, 450, 600]}},
"y": {"field": "y", "type": "quantitative", "axis": {"orient": "right", "labels": false, "title": null, "values": [0, 20, 40, 60, 80]}},
"shape": {"field": "s", "type": "nominal", "scale": {"domain": ["45Hz, 2nm", "45Hz, 1nm", "10Hz, 2nm", "10Hz, 1nm", "No CSM"], "range": ["square", "diamond", "circle", "M-1,0H1M0,-1V1M-0.7,-0.7L0.7,0.7M-0.7,0.7L0.7,-0.7", "circle"]}, "legend": null},
"fill": {"field": "s", "type": "nominal", "scale": {"domain": ["45Hz, 2nm", "45Hz, 1nm", "10Hz, 2nm", "10Hz, 1nm", "No CSM"], "range": ["#5e2b1f", "transparent", "transparent", "#ff00ff", "transparent"]}, "legend": null},
"stroke": {"field": "s", "type": "nominal", "scale": {"domain": ["45Hz, 2nm", "45Hz, 1nm", "10Hz, 2nm", "10Hz, 1nm", "No CSM"], "range": ["#4a2015", "#44cc44", "#2a3fd0", "#ff00ff", "#e07070"]}, "legend": null}
}},
{"data": {"values": [{}]},
"mark": {"type": "text", "align": "right", "baseline": "middle", "fontSize": 46, "font": "Open Sans", "color": "#000"},
"encoding": {"x": {"datum": -17.4, "type": "quantitative", "axis": null}, "y": {"datum": -11.9, "type": "quantitative", "axis": null}, "text": {"value": "(d)"}}}
]
},
{
"width": 414, "height": 309,
"data": {"name": "e"},
"resolve": {"axis": {"x": "independent", "y": "independent"}},
"layer": [
{"mark": {"type": "line", "strokeWidth": 3.5, "clip": true},
"encoding": {
"x": {"field": "x", "type": "quantitative", "scale": {"domain": [0, 250], "nice": false}, "axis": {"values": [0, 50, 100, 150, 200, 250], "title": "Displacement (nm)"}},
"y": {"field": "y", "type": "quantitative", "scale": {"domain": [0, 9], "nice": false}, "axis": {"values": [0, 3, 6, 9], "title": "Load (mN)"}},
"color": {"field": "s", "type": "nominal", "scale": {"domain": ["45Hz, 2nm", "45Hz, 1nm", "10Hz, 2nm", "10Hz, 1nm", "No CSM"], "range": ["#4d2419", "#44cc44", "#3344cc", "#ff00ff", "#e06060"]}, "legend": null},
"strokeDash": {"field": "s", "type": "nominal", "scale": {"domain": ["45Hz, 2nm", "45Hz, 1nm", "10Hz, 2nm", "10Hz, 1nm", "No CSM"], "range": [[1, 0], [1, 0], [1, 0], [1, 0], [2, 3]]}, "legend": null}
}},
{"transform": [{"filter": "datum.s != 'No CSM'"}],
"mark": {"type": "point", "size": 34, "strokeWidth": 1.2, "opacity": 1, "clip": true},
"encoding": {
"x": {"field": "x", "type": "quantitative", "axis": {"orient": "top", "labels": false, "title": null, "values": [0, 50, 100, 150, 200, 250]}},
"y": {"field": "y", "type": "quantitative", "axis": {"orient": "right", "labels": false, "title": null, "values": [0, 3, 6, 9]}},
"shape": {"field": "s", "type": "nominal", "scale": {"domain": ["45Hz, 2nm", "45Hz, 1nm", "10Hz, 2nm", "10Hz, 1nm", "No CSM"], "range": ["square", "diamond", "circle", "M-1,0H1M0,-1V1M-0.7,-0.7L0.7,0.7M-0.7,0.7L0.7,-0.7", "circle"]}, "legend": null},
"fill": {"field": "s", "type": "nominal", "scale": {"domain": ["45Hz, 2nm", "45Hz, 1nm", "10Hz, 2nm", "10Hz, 1nm", "No CSM"], "range": ["#5e2b1f", "transparent", "transparent", "#ff00ff", "transparent"]}, "legend": null},
"stroke": {"field": "s", "type": "nominal", "scale": {"domain": ["45Hz, 2nm", "45Hz, 1nm", "10Hz, 2nm", "10Hz, 1nm", "No CSM"], "range": ["#4a2015", "#44cc44", "#2a3fd0", "#ff00ff", "#e07070"]}, "legend": null}
}},
{"data": {"values": [{}]},
"mark": {"type": "text", "align": "left", "baseline": "alphabetic", "fontSize": 34, "fontWeight": "bold", "font": "Liberation Sans", "lineHeight": 40, "color": "#000"},
"encoding": {"x": {"datum": 11.5, "type": "quantitative", "axis": null}, "y": {"datum": 7.89, "type": "quantitative", "axis": null}, "text": {"value": ["Fused Silica,", "1 µm tip"]}}},
{"data": {"values": [{}]},
"mark": {"type": "text", "align": "right", "baseline": "middle", "fontSize": 46, "font": "Open Sans", "color": "#000"},
"encoding": {"x": {"datum": -7.25, "type": "quantitative", "axis": null}, "y": {"datum": -1.34, "type": "quantitative", "axis": null}, "text": {"value": "(e)"}}}
]
},
{
"width": 414, "height": 309,
"view": {"stroke": null},
"data": {"values": [{"s": "45Hz, 2nm"}, {"s": "45Hz, 1nm"}, {"s": "10Hz, 2nm"}, {"s": "10Hz, 1nm"}, {"s": "No CSM"}]},
"transform": [{"filter": "false"}],
"mark": {"type": "point", "opacity": 1, "strokeWidth": 1.5},
"encoding": {
"shape": {"field": "s", "type": "nominal", "scale": {"domain": ["45Hz, 2nm", "45Hz, 1nm", "10Hz, 2nm", "10Hz, 1nm", "No CSM"], "range": ["M-1,0H-0.214M0.214,0H1M-0.214,-0.214H0.214V0.214H-0.214Z", "M-1,0H-0.32M0.32,0H1M-0.32,0L0,-0.32L0.32,0L0,0.32Z", "M-1,0H-0.25M0.25,0H1M-0.25,0A0.25,0.25,0,1,0,0.25,0A0.25,0.25,0,1,0,-0.25,0Z", "M-1,0H1M0,-0.214V0.214M-0.15,-0.15L0.15,0.15M-0.15,0.15L0.15,-0.15", "M-1,0H-0.9M-0.8,0H-0.7M-0.6,0H-0.5M-0.4,0H-0.3M-0.2,0H-0.1M0,0H0.1M0.2,0H0.3M0.4,0H0.5M0.6,0H0.7M0.8,0H0.9"]},
"legend": {"orient": "none", "legendX": 69, "legendY": 36, "title": null, "symbolSize": 3136, "symbolStrokeWidth": 1.5, "labelFont": "Liberation Sans", "labelFontSize": 40, "labelFontWeight": "bold", "labelColor": "#000", "labelLimit": 400, "labelOffset": 8, "rowPadding": 3, "padding": 3, "strokeColor": "#777777", "fillColor": "#ffffff"}},
"fill": {"field": "s", "type": "nominal", "scale": {"domain": ["45Hz, 2nm", "45Hz, 1nm", "10Hz, 2nm", "10Hz, 1nm", "No CSM"], "range": ["#7b3a2b", "#a7c79b", "#a9b9ee", "#ff00ff", "transparent"]},
"legend": {"orient": "none", "legendX": 69, "legendY": 36, "title": null, "symbolSize": 3136, "symbolStrokeWidth": 1.5, "labelFont": "Liberation Sans", "labelFontSize": 40, "labelFontWeight": "bold", "labelColor": "#000", "labelLimit": 400, "labelOffset": 8, "rowPadding": 3, "padding": 3, "strokeColor": "#777777", "fillColor": "#ffffff"}},
"stroke": {"field": "s", "type": "nominal", "scale": {"domain": ["45Hz, 2nm", "45Hz, 1nm", "10Hz, 2nm", "10Hz, 1nm", "No CSM"], "range": ["#3b3b3b", "#5ccc5c", "#3a9ad8", "#ff00ff", "#d04040"]},
"legend": {"orient": "none", "legendX": 69, "legendY": 36, "title": null, "symbolSize": 3136, "symbolStrokeWidth": 1.5, "labelFont": "Liberation Sans", "labelFontSize": 40, "labelFontWeight": "bold", "labelColor": "#000", "labelLimit": 400, "labelOffset": 8, "rowPadding": 3, "padding": 3, "strokeColor": "#777777", "fillColor": "#ffffff"}}
}
}
],
"config": {
"font": "Liberation Sans",
"view": {"stroke": "#000", "strokeWidth": 1.5},
"axis": {"labelFont": "Liberation Sans", "labelFontSize": 22, "labelFontWeight": "bold", "labelColor": "#000", "titleFont": "Liberation Sans", "titleFontSize": 25, "titleFontWeight": "bold", "titleColor": "#000", "tickColor": "#000", "tickSize": -6, "tickWidth": 1.2, "domain": false, "grid": false, "labelFlush": false, "labelOverlap": false},
"axisBottom": {"labelPadding": 17, "titlePadding": 2},
"axisLeft": {"labelPadding": 13, "titlePadding": 10}
}
}
